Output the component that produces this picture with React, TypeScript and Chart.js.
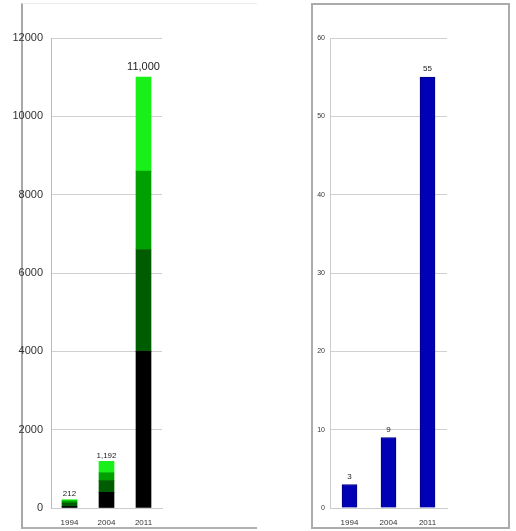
import React, { useEffect, useRef } from "react";
import { Chart, registerables } from "chart.js";

Chart.register(...registerables);

const years = ["1994", "2004", "2011"];
// left chart: stacked segments (bottom to top)
const segBlack = [40, 400, 4000];
const segDarkGreen = [90, 300, 2600];
const segGreen = [50, 200, 2000];
const segLime = [32, 292, 2400];
const leftTotals = ["212", "1,192", "11,000"];
const leftTicks = [0, 2000, 4000, 6000, 8000, 10000, 12000];

// right chart
const rightValues = [3, 9, 55];
const rightLabels = ["3", "9", "55"];
const rightTicks = [0, 10, 20, 30, 40, 50, 60];

const FONT = "'Liberation Sans', Arial, sans-serif";

function labelPlugin(texts: string[], sizes: number[], offsets: number[]) {
  return {
    id: "valueLabels",
    afterDatasetsDraw(chart: any) {
      const ctx = chart.ctx;
      const n = chart.data.datasets.length;
      const meta = chart.getDatasetMeta(n - 1);
      ctx.save();
      ctx.fillStyle = "#222";
      ctx.textAlign = "center";
      ctx.textBaseline = "bottom";
      meta.data.forEach((el: any, i: number) => {
        ctx.font = `${sizes[i]}px ${FONT}`;
        ctx.fillText(texts[i], el.x, el.y - offsets[i]);
      });
      ctx.restore();
    },
  };
}

function LeftChart() {
  const ref = useRef<HTMLCanvasElement>(null);
  useEffect(() => {
    const chart = new Chart(ref.current as HTMLCanvasElement, {
      type: "bar",
      data: {
        labels: years,
        datasets: [
          { data: segBlack, backgroundColor: "#000000", barThickness: 15 },
          { data: segDarkGreen, backgroundColor: "#005c00", barThickness: 15 },
          { data: segGreen, backgroundColor: "#00a000", barThickness: 15 },
          { data: segLime, backgroundColor: "#19f019", barThickness: 15 },
        ],
      },
      options: {
        animation: false,
        responsive: false,
        maintainAspectRatio: false,
        layout: { padding: { top: 38, right: 98, left: 0, bottom: 0 } },
        plugins: { legend: { display: false }, tooltip: { enabled: false } },
        scales: {
          x: {
            stacked: true,
            grid: { display: false },
            border: { display: true, color: "#cccccc" },
            ticks: { font: { size: 8, family: FONT }, color: "#333", padding: 2 },
            afterFit: (s: any) => { s.height = 23; },
          },
          y: {
            stacked: true,
            min: 0,
            max: 12000,
            afterBuildTicks: (s: any) => { s.ticks = leftTicks.map((v) => ({ value: v })); },
            grid: { color: "#d0d0d0", drawTicks: false },
            border: { display: true, color: "#bbbbbb" },
            ticks: {
              font: { size: 11, family: FONT },
              color: "#333",
              padding: 8,
              callback: (v: any) => String(v),
            },
            afterFit: (s: any) => { s.width = 51; },
          },
        },
      },
      plugins: [labelPlugin(leftTotals, [8, 8, 11], [2, 2, 5])],
    } as any);
    return () => chart.destroy();
  }, []);
  return (
    <canvas
      ref={ref}
      width={260}
      height={531}
      style={{ position: "fixed", left: 0, top: 0, width: 260, height: 531 }}
    />
  );
}

function RightChart() {
  const ref = useRef<HTMLCanvasElement>(null);
  useEffect(() => {
    const chart = new Chart(ref.current as HTMLCanvasElement, {
      type: "bar",
      data: {
        labels: years,
        datasets: [
          { data: rightValues, backgroundColor: "#0000b4", borderColor: "#000080", borderWidth: 1, barThickness: 15 },
        ],
      },
      options: {
        animation: false,
        responsive: false,
        maintainAspectRatio: false,
        layout: { padding: { top: 38, right: 69, left: 0, bottom: 0 } },
        plugins: { legend: { display: false }, tooltip: { enabled: false } },
        scales: {
          x: {
            grid: { display: false },
            border: { display: true, color: "#cccccc" },
            ticks: { font: { size: 8, family: FONT }, color: "#333", padding: 2 },
            afterFit: (s: any) => { s.height = 23; },
          },
          y: {
            min: 0,
            max: 60,
            afterBuildTicks: (s: any) => { s.ticks = rightTicks.map((v) => ({ value: v })); },
            grid: { color: "#d0d0d0", drawTicks: false },
            border: { display: true, color: "#cccccc" },
            ticks: { font: { size: 7, family: FONT }, color: "#333", padding: 5 },
            afterFit: (s: any) => { s.width = 30; },
          },
        },
      },
      plugins: [labelPlugin(rightLabels, [8, 8, 8], [4, 4, 4])],
    } as any);
    return () => chart.destroy();
  }, []);
  return (
    <canvas
      ref={ref}
      width={216}
      height={531}
      style={{ position: "fixed", left: 300, top: 0, width: 216, height: 531 }}
    />
  );
}

export default function App() {
  return (
    <div style={{ position: "fixed", left: 0, top: 0, width: 516, height: 531, background: "#fff" }}>
      <div
        style={{
          position: "fixed",
          left: 21,
          top: 3,
          width: 236,
          height: 526,
          borderLeft: "2px solid #a8a8a8",
          borderBottom: "2px solid #b0b0b0",
          borderTop: "1px solid #ececec",
          boxSizing: "border-box",
        }}
      />
      <div
        style={{
          position: "fixed",
          left: 311,
          top: 3,
          width: 199,
          height: 526,
          border: "2px solid #ababab",
          boxSizing: "border-box",
        }}
      />
      <LeftChart />
      <RightChart />
    </div>
  );
}
